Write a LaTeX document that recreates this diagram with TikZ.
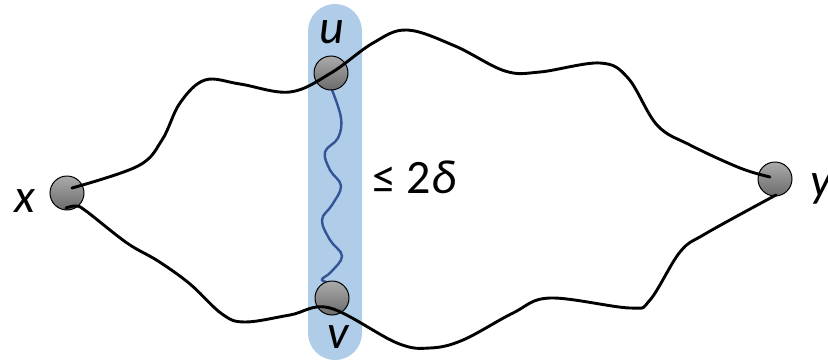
\documentclass[tikz,border=0pt]{standalone}
\usepackage{fontspec}
\setmainfont{Carlito}
\definecolor{bandblue}{RGB}{175,204,233}
\definecolor{wavyblue}{RGB}{52,84,150}
\tikzset{
  vert/.style={circle, draw=black, line width=1pt, minimum size=34pt, inner sep=0pt,
    top color=black!33, bottom color=black!58},
  pathline/.style={line width=2.9pt, black, line cap=round},
  lbl/.style={font=\fontsize{48}{50}\selectfont\itshape, anchor=base, inner sep=0pt}
}
\begin{document}
\begin{tikzpicture}[x=1pt,y=-1pt]
\useasboundingbox (0,0) rectangle (828,362);
% band
\fill[bandblue, rounded corners=27pt] (308,4) rectangle (362,360);
% wavy connector
\coordinate (ws) at (332,90);
\coordinate (we) at (336,284);
\draw[wavyblue, line width=2.4pt] plot[smooth, tension=0.65] coordinates {
 (ws) (341,118) (338,138) (325,152) (330,170) (341,186) (332,205)
 (322,220) (330,240) (342,256) (331,272) (322,280) (we)};
% vertices
\node[vert] (x) at (67,193) {};
\node[vert] (u) at (331,73) {};
\node[vert] (v) at (332,298) {};
\node[vert] (y) at (775,179) {};
% paths
\coordinate (xa) at (72,188);
\coordinate (ya) at (770,177);
\coordinate (xb) at (66,208);
\coordinate (yb) at (776,195);
\draw[pathline] plot[smooth, tension=0.6] coordinates {
 (xa) (138,166) (162,140) (180,103) (205,80) (240,84) (290,92) (u.center)
 (373,43) (407,30) (455,46) (505,71) (540,72) (600,63) (628,78) (657,125) (690,145)
 (740,168) (ya)};
\draw[pathline] plot[smooth, tension=0.6] coordinates {
 (xb) (76,206) (86,211) (127,243) (158,261) (190,284) (222,314) (245,322)
 (290,315) (330,308) (397,343) (430,348) (463,340) (513,313) (550,298)
 (630,308) (650,300) (680,252) (705,234) (yb)};
% labels
\node[lbl] (xl) at (25,212) {x};
\node[lbl] (ul) at (332,43) {u};
\node[lbl] (vl) at (338,348) {v};
\node[lbl, anchor=base west] (yl) at (810,196) {y};
\node[lbl, anchor=base west, font=\fontsize{48}{50}\selectfont] (dl) at (372,193) {≤ 2\textit{δ}};
\end{tikzpicture}
\end{document}
